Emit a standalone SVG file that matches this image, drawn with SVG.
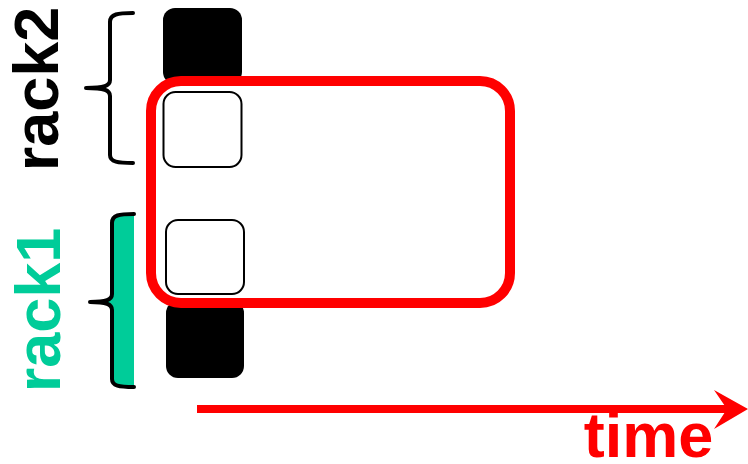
<svg xmlns="http://www.w3.org/2000/svg" width="748" height="464" viewBox="0 0 748 464">
<style>
.lbl{font-family:"Liberation Sans",Arial,sans-serif;font-weight:bold;font-size:63px;text-anchor:middle}
.brace{fill:none;stroke:#000;stroke-width:4;stroke-linecap:round;stroke-linejoin:round}
.blk{fill:#000}
.wht{fill:#fff;stroke:#000;stroke-width:2}
</style>
<rect width="748" height="464" fill="#fff"/>
<g id="rack2">
<text class="lbl" fill="#000" transform="translate(58,89) rotate(-90)">rack2</text>
<path class="brace" d="M133,13 C118,13 110,14 110,22 L110,80 C110,86 104,88 86,88 C104,88 110,90 110,96 L110,155 C110,162 118,163 133,163"/>
</g>
<g id="rack1">
<text class="lbl" fill="#00cc99" transform="translate(60,310) rotate(-90)">rack1</text>
<path fill="#00cc99" d="M134,214 C119,214 112,215 112,223 L112,294 C112,300 106,302 90,302 C106,302 112,304 112,310 L112,379 C112,386 119,387 134,387 Z"/>
<path class="brace" d="M134,214 C119,214 112,215 112,223 L112,294 C112,300 106,302 90,302 C106,302 112,304 112,310 L112,379 C112,386 119,387 134,387"/>
</g>
<g id="slot-rack2-top"><rect class="blk" x="163" y="8" width="79" height="76" rx="12"/></g>
<g id="slot-rack1-bottom"><rect class="blk" x="166" y="301" width="78" height="77" rx="12"/></g>
<g id="slot-rack2-free"><rect class="wht" x="163.5" y="92" width="78" height="75" rx="12"/></g>
<g id="slot-rack1-free"><rect class="wht" x="166" y="220" width="78" height="74" rx="12"/></g>
<g id="selection"><rect x="151" y="81" width="359" height="222" rx="30" fill="none" stroke="#ff0000" stroke-width="10"/></g>
<g id="connectors">
<line x1="197" y1="409" x2="728" y2="409" stroke="#ff0000" stroke-width="8"/>
<polygon points="748,409 714,390 727,409 714,429" fill="#ff0000"/>
</g>
<g id="time-label">
<text class="lbl" fill="#ff0000" x="648.5" y="457">time</text>
</g>
</svg>
